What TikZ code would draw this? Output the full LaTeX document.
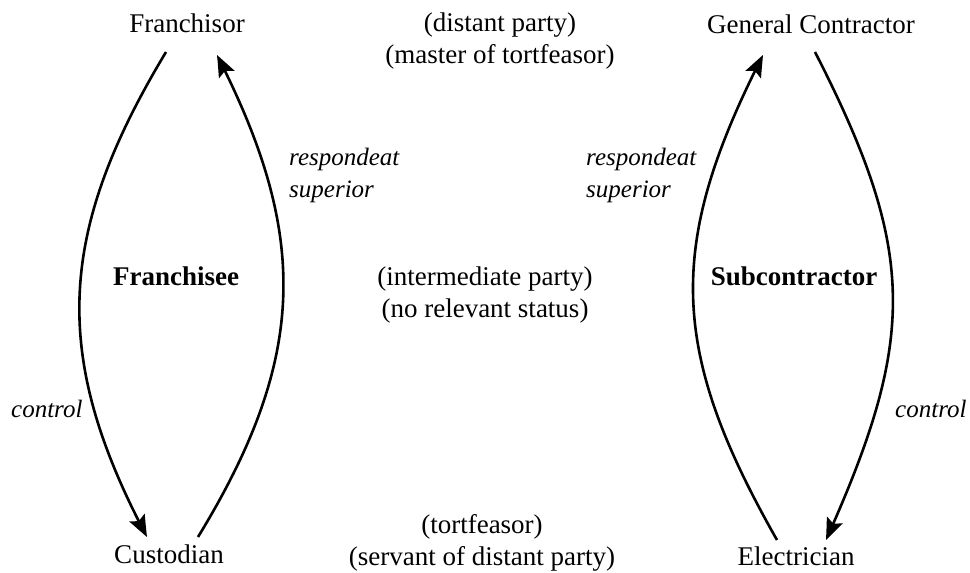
\documentclass[tikz,border=0pt]{standalone}
\usepackage{fontspec}
\setmainfont{Liberation Serif}
\usetikzlibrary{arrows.meta,calc,bending}
\begin{document}
\begin{tikzpicture}[x=1pt,y=-1pt,
  lbl/.style={inner sep=0pt,anchor=base,font=\fontsize{27}{32}\selectfont},
  stack/.style={lbl,align=center},
  role/.style={lbl,font=\fontsize{27}{32}\selectfont\bfseries},
  rel/.style={inner sep=0pt,anchor=base west,align=left,font=\fontsize{25}{32}\selectfont\itshape},
  arc/.style={line width=2.6pt,-{Stealth[length=22pt,width=17pt,inset=4pt,bend]}}]
\useasboundingbox (0,0) rectangle (970,573);

% parties, left chain
\node[lbl] (fr) at (187,32) {Franchisor};
\node[role] (fe) at (176,285) {Franchisee};
\node[lbl] (cu) at (169,563) {Custodian};

% parties, right chain
\node[lbl] (gc) at (811,33) {General Contractor};
\node[role] (sc) at (794,285) {Subcontractor};
\node[lbl] (el) at (796,565) {Electrician};

% role descriptions in the middle column (anchored at the last baseline)
\node[stack] (top) at (500,63) {(distant party)\\(master of tortfeasor)};
\node[stack] (mid) at (485,317) {(intermediate party)\\(no relevant status)};
\node[stack] (bot) at (482,565) {(tortfeasor)\\(servant of distant party)};

% relation labels
\node[rel] (rsl) at (289,197) {respondeat\\superior};
\node[rel] (rsr) at (586,197) {respondeat\\superior};
\node[rel] (cl) at (11,417) {control};
\node[rel] (cr) at (895,417) {control};

% left chain connectors
\draw[arc] ($(fr.base)+(-21,20)$) .. controls (57,233) and (51,356) .. ($(cu.base)+(-22,-26)$);
\draw[arc] ($(cu.base)+(29,-26)$) .. controls (308,357) and (309,235) .. ($(fr.base)+(30,23)$);

% right chain connectors
\draw[arc] ($(el.base)+(-19,-25)$) .. controls (669,350) and (666,245) .. ($(gc.base)+(-48,22)$);
\draw[arc] ($(gc.base)+(4,19)$) .. controls (918,253) and (916,339) .. ($(el.base)+(30,-25)$);
\end{tikzpicture}
\end{document}
